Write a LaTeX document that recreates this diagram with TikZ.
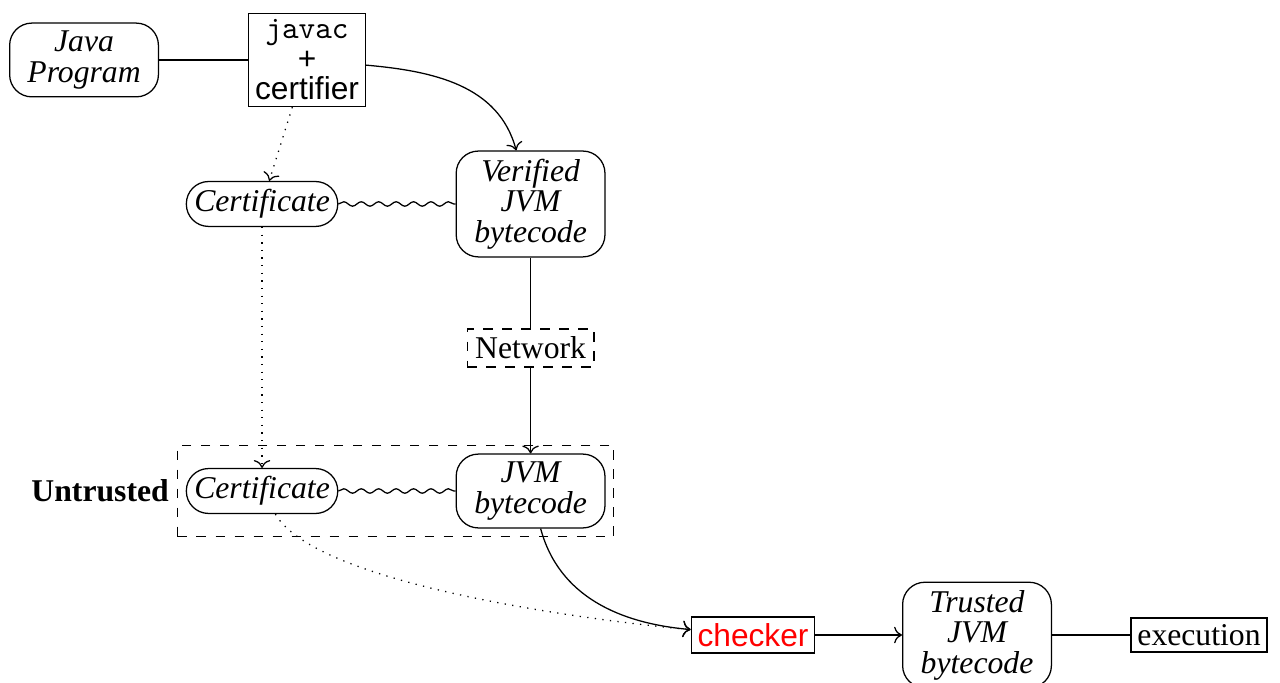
\documentclass[tikz,border=0pt]{standalone}
\usepackage{fontspec}
\setmainfont{Liberation Serif}
\setsansfont{Liberation Sans}
\usetikzlibrary{%
  arrows, arrows.meta, calc, positioning, fit,
  decorations.pathmorphing,
}

\begin{document}
\begin{tikzpicture}[
  %% Rounded data block (italic text)
  rnd/.style={
    rectangle, rounded corners=7pt, draw,
    minimum width=1.65cm, align=center, inner sep=2.5pt,
    font=\fontsize{10}{9.6}\selectfont\itshape
  },
  %% Plain tool box
  tool/.style={
    rectangle, draw, align=center, inner sep=2pt,
    font=\fontsize{10}{9.6}\selectfont
  },
  %% Certificate link
  wavy/.style={decorate,
    decoration={snake, amplitude=0.7pt, segment length=5.5pt}},
  %% Certificate flow
  cflow/.style={->, dotted},
]

%% ── Grid (x left to right, y top to bottom) ────────────────────────────────
\def\xA{0.932}   % Java program
\def\xB{2.906}   % certificates
\def\xC{3.405}   % javac
\def\xD{5.884}   % bytecode column
\def\xE{8.351}   % checker
\def\xF{10.835}  % trusted bytecode
\def\xG{13.297}  % execution
\def\yA{-0.665}
\def\yB{-2.262}
\def\yC{-3.859}
\def\yD{-5.445}
\def\yE{-7.042}

\useasboundingbox (0,0) rectangle (14.195,-7.574);

%% ── PRODUCER SIDE ───────────────────────────────────────────────────────────
\node[rnd] (prog) at (\xA,\yA) {Java\\Program};
\node[tool] (javac) at (\xC,\yA)
  {\texttt{javac}\\\textsf{+}\\\textsf{certifier}};
\node[rnd] (certA) at (\xB,\yB) {Certificate};
\node[rnd] (verified) at (\xD,\yB) {Verified\\JVM\\bytecode};

%% ── TRANSPORT ───────────────────────────────────────────────────────────────
\node[rectangle, draw, dashed, inner sep=2.5pt] (net) at (\xD,\yC) {Network};

%% ── CONSUMER SIDE ───────────────────────────────────────────────────────────
\node[rnd] (certB) at (\xB,\yD) {Certificate};
\node[rnd] (jvm) at (\xD,\yD) {JVM\\bytecode};
\node[draw, dashed, inner sep=2.6pt, fit=(certB)(jvm),
      label={[font=\bfseries, label distance=-1pt]left:Untrusted}] (untrusted) {};

\node[tool, text=red, font=\sffamily] (checker) at (\xE,\yE) {checker};
\node[rnd] (trusted) at (\xF,\yE) {Trusted\\JVM\\bytecode};
\node[tool] (exec) at (\xG,\yE) {execution};

%% ── CONNECTORS ──────────────────────────────────────────────────────────────
\draw (prog) -- (javac);
\draw[->] (javac) to[out=-5, in=105] (verified);
\draw[cflow] (javac) -- (certA);
\draw[wavy] (certA) -- (verified);
\draw (verified) -- (net);
\draw[->] (net) -- (jvm);
\draw[cflow] (certA) -- (certB);
\draw[wavy] (certB) -- (jvm);
\draw[->] (jvm) to[out=-75, in=175] (checker);
\draw[cflow] (certB) to[out=-60, in=175, looseness=0.5] (checker);
\draw[->] (checker) -- (trusted);
\draw (trusted) -- (exec);

\end{tikzpicture}
\end{document}
